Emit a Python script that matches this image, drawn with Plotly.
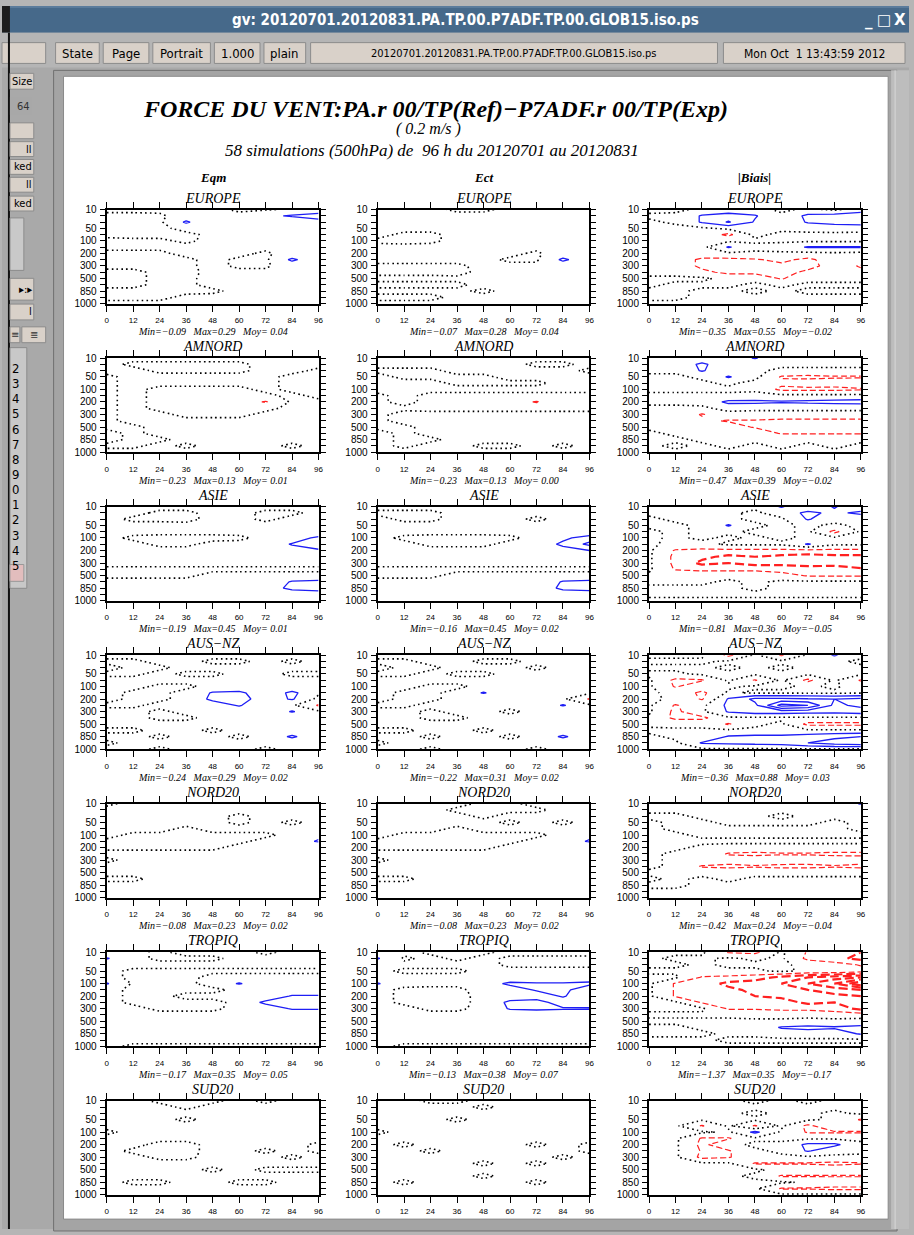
import plotly.graph_objects as go

W, H = 914, 1235

# ---------------- data ----------------
hours = [0, 12, 24, 36, 48, 60, 72, 84, 96]
pressure_levels = [10, 20, 30, 50, 70, 100, 150, 200, 250, 300, 400, 500, 700, 850, 925, 1000]
labelled_levels = [10, 50, 100, 200, 300, 500, 850, 1000]
regions = ['EUROPE', 'AMNORD', 'ASIE', 'AUS\u2212NZ', 'NORD20', 'TROPIQ', 'SUD20']
columns = ['Eqm', 'Ect', '|Biais|']
stats = [
    [('-0.09', '0.29', ' 0.04'), ('-0.07', '0.28', ' 0.04'), ('-0.35', '0.55', '-0.02')],
    [('-0.23', '0.13', ' 0.01'), ('-0.23', '0.13', ' 0.00'), ('-0.47', '0.39', '-0.02')],
    [('-0.19', '0.45', ' 0.01'), ('-0.16', '0.45', ' 0.02'), ('-0.81', '0.36', '-0.05')],
    [('-0.24', '0.29', ' 0.02'), ('-0.22', '0.31', ' 0.02'), ('-0.36', '0.88', ' 0.03')],
    [('-0.08', '0.23', ' 0.02'), ('-0.08', '0.23', ' 0.02'), ('-0.42', '0.24', '-0.04')],
    [('-0.17', '0.35', ' 0.05'), ('-0.13', '0.38', ' 0.07'), ('-1.37', '0.35', '-0.17')],
    [None, None, None],
]

# field values (hundredths of m/s), rows = pressure levels (10 -> 1000 hPa), cols = hours
z_europe_eqm = [
    [3, 3, 3, 3, 3, -2, -2, 3, 10],
    [-3, -3, -2, 6, 3, 3, 16, 22, 26],
    [-3, -3, -3, 23, 3, 3, 4, 8, 15],
    [-3, -4, -3, 4, 3, 3, 3, 4, 6],
    [-2, -3, -3, -3, 3, 3, 3, 4, 4],
    [2, 2, 2, -2, 3, 3, 3, 4, 4],
    [2, 2, 2, 3, 3, 3, 3, 4, 4],
    [-2, -2, -2, 3, 3, 3, -2, 6, 5],
    [-2, -2, -2, -2, 3, -2, -3, 24, 5],
    [-2, -2, -2, -2, 3, -2, -2, 8, 4],
    [2, 2, -2, -3, 3, 3, 3, 4, 4],
    [2, 2, -2, -2, 3, 3, 3, 3, 3],
    [2, 2, -2, -2, 3, 3, 3, 3, 3],
    [-2, -2, -2, -2, -2, 3, 3, 3, 3],
    [-2, -2, -2, 2, 3, 3, 3, 3, 3],
    [2, 2, 2, 2, 3, 3, 3, 3, 3],
]
z_europe_ect = [
    [3, 3, 3, -2, -2, 3, 3, 3, 3],
    [3, 3, 3, 3, 3, 3, 3, 3, 3],
    [3, 3, 3, 3, 3, 3, 3, 4, 4],
    [3, 3, 3, 3, 3, 3, 3, 4, 4],
    [3, -2, -2, 3, 3, 3, 3, 4, 4],
    [-2, -3, -2, 3, 3, 3, 3, 4, 4],
    [3, 3, 3, 3, 3, 3, 3, 6, 5],
    [3, 3, 3, 3, 3, 3, -2, 8, 6],
    [3, 3, 3, 3, 3, -2, -2, 24, 6],
    [-2, -2, -2, -2, 3, 3, 3, 8, 4],
    [-2, -2, -2, -3, 3, 3, 3, 4, 4],
    [2, 2, 2, 2, 3, 3, 3, 3, 3],
    [-2, -2, -2, -2, 3, 3, 3, 3, 3],
    [2, 2, 2, 2, -2, 3, 3, 3, 3],
    [-2, -2, -2, 2, 3, 3, 3, 3, 3],
    [2, 2, 2, 2, 3, 3, 3, 3, 3],
]
z_europe_bias = [
    [-5, -3, 3, 5, 5, -3, 3, -3, 8],
    [3, 3, 22, 30, 22, 3, 25, 28, 35],
    [-3, 3, 22, 42, 18, 5, 22, 26, 30],
    [-5, -5, -3, 4, 3, 5, 8, 10, 8],
    [-5, -5, -5, -25, 5, -5, -5, -5, -5],
    [-3, -3, -3, -3, -3, -3, -3, -3, -3],
    [-5, -5, -5, 22, 5, 8, 22, 22, 22],
    [-5, -5, -5, -3, -3, -3, -5, -3, -5],
    [-5, -5, -25, -25, -22, -15, -25, -8, -5],
    [-5, -5, -25, -30, -30, -25, -28, -10, -22],
    [-5, -5, -15, -25, -25, -28, -15, -10, -15],
    [3, 3, 3, -5, -5, -22, -5, -5, -5],
    [3, -3, -3, -3, 3, -3, 3, 3, 3],
    [-3, -3, 3, 3, -3, 3, -3, -3, -3],
    [-3, -3, 3, 3, 3, 3, 3, 3, 3],
    [3, 3, 3, 3, 3, 3, 3, 3, 3],
]
z_amnord_eqm = [
    [3, 3, 3, 3, 3, 3, 3, 3, 3],
    [3, -2, -2, -2, -2, -2, 3, 3, 3],
    [3, 3, -2, -2, -2, -2, 3, 3, -2],
    [-2, 3, 3, 3, 3, 3, 3, -3, -2],
    [-2, 3, 3, 3, 3, 3, 3, -3, -3],
    [-2, 3, -3, -3, -3, -3, 3, -3, -3],
    [-2, 3, -3, -5, -5, -5, -3, 3, -3],
    [-2, 3, -3, -5, -8, -8, -22, 3, 3],
    [-2, 3, -3, -5, -5, -5, -3, 3, 3],
    [-2, 3, 3, -3, -3, -3, 3, 3, 3],
    [-2, 3, 3, 3, 3, 3, 3, 3, 3],
    [-2, -2, 3, 3, 3, 3, 3, 3, 3],
    [3, -2, 3, 3, 3, 3, 3, 3, 3],
    [3, -2, -2, 3, 3, 3, 3, 3, 3],
    [-2, -2, 3, -2, 3, 3, 3, -2, 3],
    [3, 3, 3, 3, 3, 3, 3, 3, 3],
]
z_amnord_ect = [
    [3, 3, 3, 3, 3, 3, 3, 3, 3],
    [3, 3, 3, 3, 3, 3, -2, -2, 3],
    [-2, -2, -2, 3, 3, 3, 3, 3, -2],
    [3, -2, -2, -2, -2, 3, 3, 3, 3],
    [3, 3, 3, -2, -2, -2, -2, 3, 3],
    [3, 3, 3, 3, 3, 3, 3, 3, 3],
    [-2, 3, -3, -3, -3, -3, -3, -3, -3],
    [-2, 3, -3, -5, -5, -8, -22, -5, -3],
    [-2, -2, -3, -3, -3, -3, -3, -3, -3],
    [-2, 3, 3, 3, 3, 3, 3, 3, 3],
    [-2, 3, 3, 3, 3, 3, 3, 3, 3],
    [-2, -2, 3, 3, 3, 3, 3, 3, 3],
    [3, -2, 3, 3, 3, 3, 3, 3, 3],
    [3, -2, -2, 3, 3, 3, 3, 3, 3],
    [3, -2, 3, 3, -2, -2, 3, -2, 3],
    [3, 3, 3, 3, 3, 3, 3, 3, 3],
]
z_amnord_bias = [
    [3, 3, 3, 5, 22, 3, 3, 3, 3],
    [3, 3, 25, 3, 3, 3, 3, 3, 3],
    [3, 3, 22, 5, 3, -3, -3, -3, -3],
    [-3, -3, 3, 22, 5, -22, -25, -22, -22],
    [-3, -3, -3, 3, -5, -15, -10, -12, -10],
    [-3, -3, -3, -3, -3, -25, -25, -25, -22],
    [3, 3, 3, 3, 5, 5, 5, 5, 5],
    [3, 3, 5, 25, 25, 22, 24, 26, 28],
    [-3, -3, -3, 5, 3, 3, 3, 3, 3],
    [-3, -3, -22, -5, -5, -5, -5, -5, -5],
    [-3, -3, -15, -22, -22, -25, -25, -25, -25],
    [-3, -3, -8, -10, -22, -22, -25, -25, -28],
    [3, -3, -3, -5, -5, -22, -22, -22, -22],
    [3, 3, -3, -3, -3, -3, -3, -3, -3],
    [3, -3, 3, -3, 3, -3, 3, -3, 3],
    [3, 3, 3, 3, 3, 3, 3, 3, 3],
]
z_asie_eqm = [
    [3, 3, 3, 3, 3, 3, 3, 3, 3],
    [3, 3, -2, -2, 3, 3, -2, -2, 3],
    [3, -2, -2, -3, 3, 3, -2, 3, 3],
    [3, 3, 3, 3, 3, 3, 3, 3, 3],
    [3, 3, 3, 3, 3, 3, 3, 3, 3],
    [3, -2, -3, -3, -3, -2, 3, 8, 25],
    [3, 3, -2, -2, 3, 3, 5, 22, 40],
    [3, 3, 3, 3, 3, 3, 3, 8, 15],
    [3, 3, 3, 3, 3, 3, 3, 3, 3],
    [3, 3, 3, 3, 3, 3, 3, 3, 3],
    [-2, -2, -2, -2, -2, -2, -2, -2, -2],
    [-2, -2, -2, -2, 3, 3, 3, 3, 3],
    [3, 3, 3, 3, 3, 3, 5, 22, 25],
    [3, 3, 3, 3, 3, 3, 8, 26, 30],
    [3, 3, 3, 3, 3, 3, 3, 5, 8],
    [3, 3, 3, 3, 3, 3, 3, 3, 3],
]
z_asie_ect = [
    [3, 3, 3, 3, 3, 3, 3, 3, 3],
    [-2, -2, -2, 3, 3, 3, 3, 3, 3],
    [3, -2, -2, 3, 3, 3, -2, 3, 3],
    [3, 3, 3, 3, 3, 3, 3, 3, 3],
    [3, 3, 3, 3, 3, 3, 3, 3, 3],
    [3, -2, -3, -3, -3, -2, 3, 15, 30],
    [3, 3, -2, -2, -2, 3, 5, 25, 45],
    [3, 3, 3, 3, 3, 3, 3, 10, 20],
    [3, 3, 3, 3, 3, 3, 3, 3, 3],
    [3, 3, 3, 3, 3, 3, 3, 3, 3],
    [-2, -2, -2, -2, -2, -2, -2, -2, -2],
    [-2, -2, -2, 3, 3, 3, 3, 3, 3],
    [3, 3, 3, 3, 3, 3, 3, 22, 25],
    [3, 3, 3, 3, 3, 3, 3, 26, 28],
    [3, 3, 3, 3, 3, 3, 3, 5, 8],
    [3, 3, 3, 3, 3, 3, 3, 3, 3],
]
z_asie_bias = [
    [3, 3, 3, 3, 3, 22, 3, 22, 3],
    [3, 3, 3, 3, -3, 8, 25, 15, 25],
    [-3, 3, 3, 3, -3, -3, 22, 5, 5],
    [-3, -3, 3, 22, 3, -3, 3, -3, 3],
    [3, -3, 3, 3, -3, -3, 3, -25, 3],
    [3, -3, 3, -3, 3, -3, 3, 3, 3],
    [3, -5, -5, 3, 3, 3, 22, 3, 3],
    [3, -22, -25, -25, -25, -25, -25, -25, -25],
    [3, -25, -35, -45, -40, -45, -50, -45, -45],
    [3, -25, -45, -40, -48, -45, -50, -48, -60],
    [3, -22, -25, -25, -25, -30, -30, -30, -35],
    [-3, -3, -5, -5, -5, -10, -22, -22, -22],
    [-3, -3, -3, 3, -3, 3, 3, 3, 3],
    [3, 3, 3, 3, -3, 3, 3, 3, 3],
    [3, 3, 3, 3, 3, 3, 3, 3, 3],
    [-3, -3, -3, -3, -3, -3, -3, -3, -3],
]
z_ausnz_eqm = [
    [3, 3, 3, 3, 3, 3, 3, 3, 3],
    [-2, -2, 3, 3, -2, -2, 3, -2, 3],
    [3, -2, -2, 3, 3, 3, 3, 3, 3],
    [-2, -2, 3, -2, -2, 3, 3, -2, -2],
    [3, 3, 3, 3, 3, 3, 3, 3, 3],
    [3, 3, -2, -2, 3, 3, 3, 3, 3],
    [3, -2, -2, 3, 22, 25, 5, 25, 3],
    [3, -2, -2, 3, 25, 28, 10, 22, -5],
    [-2, -2, 3, 3, 8, 22, 3, 3, -22],
    [3, 3, -2, 3, 3, 5, 3, 22, 3],
    [3, 3, -2, -2, 3, 3, 3, 3, 3],
    [3, 3, 3, 3, 3, 3, 3, 3, 3],
    [-2, -2, 3, 3, -2, 3, 3, 5, 3],
    [3, 3, -2, 3, 3, -2, 3, 24, 3],
    [-2, 3, 3, 3, 3, 3, 3, 3, 3],
    [3, 3, -2, 3, 3, 3, -2, 3, 3],
]
z_ausnz_ect = [
    [3, 3, 3, 3, 3, 3, 3, 3, 3],
    [-2, -2, 3, 3, -2, -2, 3, 3, 3],
    [3, -2, -2, 3, 3, 3, -2, 3, 3],
    [-2, -2, 3, -2, -2, 3, 3, 3, 3],
    [3, 3, 3, 3, 3, 3, 3, 3, 3],
    [3, 3, -2, -2, 3, 3, 3, 3, 3],
    [3, -2, -2, 3, 22, 3, 3, 3, 3],
    [3, -2, -2, 3, 3, 3, 3, 3, -22],
    [-2, -2, 3, 3, 3, 3, 3, 22, 3],
    [3, 3, -2, 3, 3, -2, 3, 3, 3],
    [3, 3, -2, -2, 3, 3, 3, 3, 3],
    [3, 3, 3, 3, 3, 3, 3, 3, 3],
    [-2, -2, 3, 3, -2, 3, 3, 3, 3],
    [3, 3, -2, 3, 3, -2, 3, 24, 3],
    [-2, 3, 3, 3, 3, 3, 3, 3, 3],
    [3, 3, -2, 3, 3, 3, -2, 3, 3],
]
z_ausnz_bias = [
    [3, 3, 3, -25, 3, -22, 3, 22, 5],
    [-3, -3, -3, 3, 3, 3, 3, 3, -3],
    [3, 3, 3, -3, 3, -3, 3, 3, 3],
    [-3, -3, 3, 3, 3, 3, 3, 3, 3],
    [3, -25, -22, 3, -22, 3, -25, 3, -22],
    [3, -22, -5, -3, 3, 3, -3, 3, -10],
    [3, -5, -25, 3, -3, -3, -3, -3, -3],
    [3, -3, -22, 22, 45, 45, 42, 40, 45],
    [3, -22, -5, 25, 35, 88, 80, 35, 45],
    [3, -25, -3, 22, 30, 30, 28, 26, 30],
    [-3, -25, -25, -3, -3, -3, -3, -3, -3],
    [-3, -5, -5, -22, -3, 3, -25, -25, -25],
    [3, 3, 3, 3, 3, 3, 3, 3, 3],
    [-3, 3, 3, 22, 25, 25, 30, 35, 40],
    [-3, -3, 22, 24, 26, 28, 40, 50, 55],
    [-3, -3, -3, -3, -3, -3, -3, -3, -3],
]
z_nord20_eqm = [
    [-2, 3, 3, 3, 3, 3, 3, 3, 3],
    [3, 3, 3, 3, 3, 3, 3, 3, 3],
    [3, 3, 3, 3, 3, -2, 3, 3, 3],
    [3, 3, 3, 3, 3, -2, 3, -2, 3],
    [3, 3, 3, -2, 3, 3, 3, 3, 3],
    [3, -2, -2, -2, -2, -2, -2, 3, 15],
    [-2, -2, -3, -3, -3, -2, 3, 10, 22],
    [-2, -2, -2, -2, -2, 3, 3, 3, 3],
    [3, 3, 3, 3, 3, 3, 3, 3, 3],
    [-2, 3, 3, 3, 3, 3, 3, 3, 3],
    [3, 3, 3, 3, 3, 3, 3, 3, 3],
    [3, 3, 3, 3, 3, 3, 3, 3, 3],
    [-2, -2, 3, 3, 3, 3, 3, 3, 3],
    [3, 3, 3, 3, 3, 3, 3, 3, 3],
    [3, 3, 3, 3, 3, 3, 3, 3, 3],
    [3, 3, 3, 3, 3, 3, 3, 3, 3],
]
z_nord20_ect = [
    [3, 3, 3, 3, -2, -2, 3, 3, 3],
    [3, 3, 3, -2, -2, -2, -2, 3, 3],
    [3, 3, 3, 3, -2, 3, 3, 3, 3],
    [3, 3, 3, 3, 3, -2, 3, -2, 3],
    [3, 3, 3, -2, 3, 3, 3, 3, 3],
    [3, -2, -2, -2, -2, -2, -2, 3, 15],
    [-2, -2, -3, -3, -3, -2, 3, 10, 22],
    [-2, -2, -2, -2, -2, 3, 3, 3, 3],
    [3, 3, 3, 3, 3, 3, 3, 3, 3],
    [-2, 3, 3, 3, 3, 3, 3, 3, 3],
    [3, 3, 3, 3, 3, 3, 3, 3, 3],
    [3, 3, 3, 3, 3, 3, 3, 3, 3],
    [-2, -2, 3, 3, 3, 3, 3, 3, 3],
    [3, 3, 3, 3, 3, 3, 3, 3, 3],
    [3, 3, 3, 3, 3, 3, 3, 3, 3],
    [3, 3, 3, 3, 3, 3, 3, 3, 3],
]
z_nord20_bias = [
    [3, 3, 3, 3, 3, 3, 3, 3, 22],
    [3, 3, 3, 3, 3, 3, 3, 3, 5],
    [-3, -3, 3, 3, 3, -3, 3, 3, 3],
    [3, -3, -3, 3, 3, 3, 3, -3, 3],
    [3, -3, -3, -3, -3, -3, -3, -3, 3],
    [3, 3, -3, -3, -3, -3, -3, -3, -3],
    [3, 3, 3, 3, 3, 3, 3, 3, 3],
    [3, 3, -3, -5, -5, -5, -5, -5, -5],
    [3, -3, -5, -22, -25, -22, -22, -25, -25],
    [3, -3, -5, -10, -8, -8, -10, -8, -10],
    [3, -3, -22, -25, -22, -25, -25, -22, -25],
    [-3, -3, -5, -5, -5, -5, -5, -5, -5],
    [3, -3, 3, -3, 3, 3, 3, 3, 3],
    [-3, -3, 3, 3, 3, 3, 3, 3, 3],
    [3, 3, 3, 3, 3, 3, 3, 3, 3],
    [3, 3, 3, 3, 3, 3, 3, 3, 3],
]
z_tropiq_eqm = [
    [3, 3, -2, 3, 3, 3, -2, 3, 3],
    [22, 3, -2, -2, -2, 3, 3, 3, 3],
    [3, 3, 3, 3, 3, 3, 3, 3, 3],
    [3, -2, -2, -2, -2, -2, -2, -2, -2],
    [3, -2, -3, -3, 3, 3, 3, 3, 3],
    [22, -2, -3, -3, 5, 22, 5, 3, 3],
    [3, -2, -3, -3, -3, 3, 3, 3, 3],
    [3, -2, -3, 3, 3, 3, 5, 22, 22],
    [3, -2, -3, -3, -3, 3, 25, 25, 24],
    [3, 3, -2, -2, -2, 3, 8, 22, 22],
    [3, 3, 3, 3, 3, 3, 3, 3, 3],
    [3, 3, 3, 3, 3, 3, 3, 3, 3],
    [3, 3, 3, 3, 3, 3, 3, 3, 3],
    [3, 3, 3, 3, 3, 3, 3, 3, 3],
    [3, 3, 3, 3, 3, 3, 3, 3, 3],
    [3, -2, -2, -2, -2, -2, -2, -2, -2],
]
z_tropiq_ect = [
    [3, 3, -2, -2, -2, 3, 3, 3, 3],
    [22, -2, 3, -2, 3, -2, -2, -2, -2],
    [3, 3, 3, 3, 3, -2, -2, -2, -2],
    [3, -2, -2, -2, 3, 3, 3, 3, 3],
    [3, 3, 3, 3, 3, 5, 5, 5, 5],
    [22, 3, 3, 3, 10, 24, 22, 22, 25],
    [3, -2, -3, -3, 5, 10, 22, 26, 5],
    [3, -2, -3, -3, 3, 8, 10, 22, 5],
    [3, -2, -3, -3, 3, 25, 28, 10, 8],
    [3, 3, -2, -2, 3, 22, 24, 22, 22],
    [3, 3, 3, 3, 3, 3, 5, 5, 5],
    [3, 3, 3, 3, 3, 3, 3, 3, 3],
    [3, 3, 3, 3, 3, 3, 3, 3, 3],
    [3, 3, 3, 3, 3, 3, 3, 3, 3],
    [3, 3, 3, 3, 3, 3, 3, 3, 3],
    [3, -2, -2, -2, -2, -2, -2, -2, -2],
]
z_tropiq_bias = [
    [3, 3, 3, -22, -25, 3, -22, -30, -40],
    [3, -3, -3, 3, -3, 3, -25, -35, -45],
    [3, 3, -3, 3, 3, 3, -5, -10, -22],
    [-3, -3, -3, -3, -3, 3, -3, -3, -10],
    [3, 3, -22, -25, -30, -45, -60, -70, -80],
    [3, -22, -30, -45, -50, -60, -80, -100, -137],
    [3, -22, -25, -35, -45, -50, -60, -70, -80],
    [3, -22, -25, -25, -40, -45, -50, -55, -60],
    [3, 3, -22, -22, -25, -30, -45, -40, -45],
    [3, 3, 3, -22, -22, -25, -25, -30, -45],
    [-3, -3, -3, -3, -5, -5, -5, -8, -10],
    [3, 3, 3, 3, 3, 3, 5, 5, 8],
    [-3, -3, 3, 3, 5, 22, 25, 22, 25],
    [-3, -3, -3, 3, 3, 8, 10, 10, 22],
    [3, 3, 3, -3, -3, -3, -3, -3, -3],
    [3, 3, 3, 3, 3, 3, 3, 3, 3],
]
z_sud20_eqm = [
    [3, 3, -2, -2, -2, 3, -2, 3, 3],
    [3, 3, 3, -2, 3, 3, 3, 3, 3],
    [3, 3, 3, 3, 3, 3, 3, 3, 3],
    [3, 3, 3, -2, 3, 3, 3, 3, 3],
    [3, 3, 3, 3, 3, 3, 3, 3, 3],
    [-2, 3, 3, 3, 3, 3, 3, 3, 3],
    [3, 3, 3, 3, 3, 3, 3, 3, 3],
    [3, 3, -3, -3, 3, 3, 3, 3, -2],
    [3, -2, -3, -3, 3, 3, -2, 3, -2],
    [3, 3, -2, -2, 3, 3, 3, -2, 3],
    [3, 3, 3, 3, 3, 3, 3, 3, 3],
    [3, 3, 3, 3, -2, 3, -2, -2, -2],
    [3, 3, 3, 3, 3, 3, 3, 3, 3],
    [3, -2, -2, 3, 3, -2, -2, 3, 3],
    [3, 3, 3, 3, 3, 3, 3, 3, 3],
    [3, 3, 3, 3, 3, 3, 3, 3, 3],
]
z_sud20_ect = [
    [3, 3, -2, -2, 3, 3, 3, 3, 3],
    [3, 3, 3, 3, -2, 3, 3, 3, 3],
    [3, 3, 3, 3, 3, 3, 3, 3, 3],
    [3, 3, 3, -2, 3, 3, 3, 3, 3],
    [3, 3, 3, 3, 3, 3, 3, 3, 3],
    [-2, 3, 3, 3, 3, 3, 3, 3, 3],
    [3, 3, 3, 3, 3, 3, 3, 3, 3],
    [3, -2, 3, 3, 3, 3, -2, 3, -2],
    [3, 3, -2, 3, 3, 3, 3, 3, -2],
    [3, 3, 3, 3, 3, 3, 3, -2, 3],
    [3, 3, 3, 3, -2, 3, -2, 3, 3],
    [3, 3, 3, 3, 3, 3, 3, 3, 3],
    [3, 3, 3, 3, -2, 3, 3, 3, 3],
    [3, -2, 3, 3, 3, 3, -2, 3, 3],
    [3, 3, 3, 3, 3, 3, 3, 3, 3],
    [3, 3, 3, 3, 3, 3, 3, 3, 3],
]
z_sud20_bias = [
    [3, 3, 3, 3, -3, 3, -3, 3, 3],
    [3, 3, 3, 3, 3, 3, 3, 3, 3],
    [3, 3, 3, 3, -3, 3, 3, -3, 3],
    [3, 3, 3, 3, 3, 3, 3, -3, -22],
    [3, 3, -22, 3, -22, 3, -25, -3, -5],
    [3, 3, 3, -3, 25, -3, -22, -22, -22],
    [3, 3, -22, -22, -3, -3, -3, -3, -3],
    [3, 3, -25, -5, 3, 3, 25, 25, 3],
    [3, 3, -22, -22, -3, 3, 22, 5, 3],
    [3, 3, -25, -22, -3, -3, -3, -3, -3],
    [3, 3, 3, 3, -22, -22, -22, -25, -22],
    [3, 3, 3, 3, 3, -5, -5, -5, -5],
    [3, 3, 3, 3, -3, -22, -22, -22, -22],
    [3, 3, 3, 3, 3, 3, -3, -5, -5],
    [3, 3, 3, 3, 3, -22, -22, -25, -25],
    [3, 3, 3, 3, 3, 3, 3, 3, 3],
]

panels = [
    [z_europe_eqm, z_europe_ect, z_europe_bias],
    [z_amnord_eqm, z_amnord_ect, z_amnord_bias],
    [z_asie_eqm, z_asie_ect, z_asie_bias],
    [z_ausnz_eqm, z_ausnz_ect, z_ausnz_bias],
    [z_nord20_eqm, z_nord20_ect, z_nord20_bias],
    [z_tropiq_eqm, z_tropiq_ect, z_tropiq_bias],
    [z_sud20_eqm, z_sud20_ect, z_sud20_bias],
]

# ---------------- layout helpers ----------------
def px(x):
    return x / W


def py(y):
    return 1 - y / H


shapes = []
annotations = []


def rect(x0, y0, x1, y1, fill=None, line=None, lw=1):
    shapes.append(dict(type='rect', xref='paper', yref='paper', layer='below',
                       x0=px(x0), x1=px(x1), y0=py(y1), y1=py(y0),
                       fillcolor=fill if fill else 'rgba(0,0,0,0)',
                       line=dict(color=line if line else 'rgba(0,0,0,0)', width=lw if line else 0)))


def hline(x0, x1, y, color, lw=1):
    shapes.append(dict(type='line', xref='paper', yref='paper', layer='below',
                       x0=px(x0), x1=px(x1), y0=py(y), y1=py(y), line=dict(color=color, width=lw)))


def vline(x, y0, y1, color, lw=1):
    shapes.append(dict(type='line', xref='paper', yref='paper', layer='below',
                       x0=px(x), x1=px(x), y0=py(y0), y1=py(y1), line=dict(color=color, width=lw)))


def text(x, y, s, size, color='black', family='Liberation Serif', xanchor='center', yanchor='middle'):
    annotations.append(dict(xref='paper', yref='paper', x=px(x), y=py(y), text=s, showarrow=False,
                            font=dict(size=size, color=color, family=family),
                            xanchor=xanchor, yanchor=yanchor, borderpad=0))


SANS_C = 'DejaVu Sans Condensed, Liberation Sans Narrow, DejaVu Sans'

# ---------------- window chrome ----------------
rect(0, 0, W, 27, fill='#46698a')
rect(0, 0, 8, 27, fill='#1c1c1c')
hline(8, W, 1, '#6f8fae', 1)
text(467, 14, '<b>gv: 20120701.20120831.PA.TP.00.P7ADF.TP.00.GLOB15.iso.ps</b>', 15, 'white', SANS_C)
text(874, 15, '<b>_</b>', 15, 'white', 'DejaVu Sans')
text(889, 14, '\u25a1', 15, 'white', 'DejaVu Sans')
text(905, 14, '<b>X</b>', 15, 'white', 'DejaVu Sans')

rect(0, 27, W, 62, fill='#b5b5b5')
btn_fill, btn_line = '#d9d1c9', '#8c8c8c'
buttons = [(0, 44, ''), (54, 98, 'State'), (102, 148, 'Page'), (152, 210, 'Portrait'),
           (214, 260, '1.000'), (264, 306, 'plain'),
           (311, 721, '20120701.20120831.PA.TP.00.P7ADF.TP.00.GLOB15.iso.ps'),
           (727, 910, 'Mon Oct\u00a0\u00a01 13:43:59 2012')]
for bx0, bx1, label in buttons:
    rect(bx0, 37, bx1, 58, fill=btn_fill, line=btn_line)
    if label:
        size = 11 if len(label) > 30 else (12 if len(label) > 10 else 13)
        text((bx0 + bx1) / 2, 48, label, size, 'black', SANS_C)

# page area
rect(0, 62, W, H, fill='#a9a9a9')
rect(52, 65, 902, H + 2, fill='#a4a4a4', line='#707070')
rect(896, 65, 914, H, fill='#bdbdbd')
vline(900, 65, H, '#d8d8d8', 1)
rect(62, 71, 893, 1225, fill='white', line='#8a8a8a')

# left panel
vline(7, 27, H, '#111111', 2)
left_btns = [(68, 84, 'Size'), (118, 134, ''), (137, 152, 'll'), (155, 170, 'ked'),
             (173, 188, 'll'), (192, 207, 'ked'), (275, 297, '\u25b8:\u25b8'), (301, 317, 'l')]
for by0, by1, label in left_btns:
    rect(8, by0, 32, by1, fill=btn_fill, line=btn_line)
    if label:
        text(31, (by0 + by1) / 2, label, 11, 'black', SANS_C, xanchor='right')
rect(8, 92, 30, 110, fill='#a8a8a8')
text(29, 101, '64', 11, '#333333', SANS_C, xanchor='right')
rect(8, 214, 22, 267, fill='#c9c9c9', line='#8c8c8c')
rect(8, 324, 18, 340, fill=btn_fill, line=btn_line)
rect(20, 324, 44, 340, fill=btn_fill, line=btn_line)
text(13, 332, '\u2261', 10, '#333333', 'DejaVu Sans')
text(32, 332, '\u2263', 10, '#333333', 'DejaVu Sans')
rect(8, 345, 25, 588, fill='#c8c8c8', line='#8c8c8c')
list_items = ['2', '3', '4', '5', '6', '7', '8', '9', '0', '1', '2', '3', '4', '5']
rect(8, 564, 22, 581, fill='#e2bdbd', line='#999999')
for k, item in enumerate(list_items):
    text(9, 366 + 15.3 * k, item, 13, 'black', SANS_C, xanchor='left')

# ---------------- titles ----------------
text(437, 104, '<b><i>FORCE DU VENT:PA.r 00/TP(Ref)\u2212P7ADF.r 00/TP(Exp)</i></b>', 24)
text(430, 124, '<i>( 0.2 m/s )</i>', 16)
text(433, 146, '<i>58 simulations (500hPa) de\u00a0\u00a096 h du 20120701 au 20120831</i>', 17)

col_left = [105.5, 378.5, 652.0]
panel_w = 213.5
row_top0, row_step, panel_h = 205.5, 150.0, 95.0

for c, name in enumerate(columns):
    text(col_left[c] + panel_w / 2, 173, '<b><i>%s</i></b>' % name, 13)

# ---------------- panels ----------------
fig = go.Figure()
tick_text = [str(p) if p in labelled_levels else '' for p in pressure_levels]
level_idx = list(range(len(pressure_levels)))
layout_axes = {}
BLUE, RED = '#1e1ef5', '#ff2020'

n = 0
for r in range(7):
    for c in range(3):
        n += 1
        sfx = '' if n == 1 else str(n)
        x0 = col_left[c]
        y0 = row_top0 + r * row_step
        z = [[v / 100.0 for v in row] for row in panels[r][c]]
        common = dict(x=hours, y=level_idx, z=z, showscale=False, hoverinfo='skip',
                      autocontour=False, xaxis='x' + sfx, yaxis='y' + sfx)
        fig.add_trace(go.Contour(**common,
                                 contours=dict(start=0, end=0, size=1, coloring='none', showlabels=False),
                                 line=dict(color='black', width=1.6, dash='1.6px,3.2px', smoothing=0)))
        fig.add_trace(go.Contour(**common,
                                 contours=dict(start=0.2, end=2.0, size=0.2, coloring='none', showlabels=False),
                                 line=dict(color=BLUE, width=1.3, smoothing=0)))
        fig.add_trace(go.Contour(**common,
                                 contours=dict(start=-0.2, end=-0.2, size=1, coloring='none', showlabels=False),
                                 line=dict(color=RED, width=1.2, dash='6px,3px', smoothing=0)))
        fig.add_trace(go.Contour(**common,
                                 contours=dict(start=-2.0, end=-0.4, size=0.2, coloring='none', showlabels=False),
                                 line=dict(color=RED, width=2.2, dash='9px,4px', smoothing=0)))

        layout_axes['xaxis' + sfx] = dict(
            domain=[px(x0), px(x0 + panel_w)], anchor='y' + sfx, range=[0, 96],
            tickmode='array', tickvals=hours, ticktext=[str(h) for h in hours],
            ticks='outside', ticklen=6, tickwidth=1, tickcolor='black', tickangle=0,
            showline=True, linewidth=2, linecolor='black', mirror='ticks',
            showgrid=False, zeroline=False, ticklabelstandoff=2,
            tickfont=dict(size=8, family='Liberation Sans', color='black'))
        layout_axes['yaxis' + sfx] = dict(
            domain=[py(y0 + panel_h), py(y0)], anchor='x' + sfx, range=[15, 0],
            tickmode='array', tickvals=level_idx, ticktext=tick_text,
            ticks='outside', ticklen=5, tickwidth=1, tickcolor='black',
            showline=True, linewidth=2, linecolor='black', mirror='ticks',
            showgrid=False, zeroline=False, ticklabelstandoff=1,
            tickfont=dict(size=10, family='Liberation Sans', color='black'))

        cx = x0 + panel_w / 2
        text(cx, y0 - 11.5, '<i>%s</i>' % regions[r], 14)
        st = stats[r][c]
        if st:
            s = '<i>Min=%s\u00a0\u00a0\u00a0Max=%s\u00a0\u00a0\u00a0Moy=%s</i>' % (
                st[0].replace('-', '\u2212'), st[1], st[2].replace('-', '\u2212').replace(' ', '\u00a0'))
            text(cx, y0 + panel_h + 28.5, s, 10)

fig.update_layout(width=W, height=H, margin=dict(l=0, r=0, t=0, b=0),
                  paper_bgcolor='#b5b5b5', plot_bgcolor='rgba(0,0,0,0)', showlegend=False,
                  shapes=shapes, annotations=annotations, **layout_axes)

fig.write_html('out.html')
